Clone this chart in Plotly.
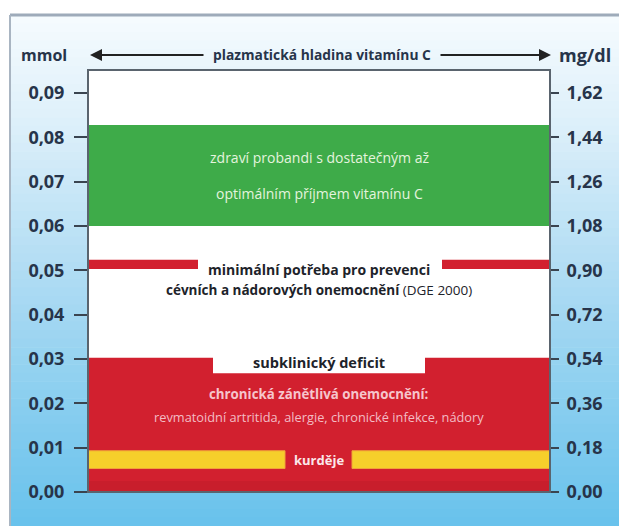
import plotly.graph_objects as go

# ---- data ----
mmol_ticks = [0.00, 0.01, 0.02, 0.03, 0.04, 0.05, 0.06, 0.07, 0.08, 0.09]
mgdl_ticks = [0.00, 0.18, 0.36, 0.54, 0.72, 0.90, 1.08, 1.26, 1.44, 1.62]
y_max = 0.0952
mg_per_mmol = 18.0

optimum_band = [0.0600, 0.0828]
minimum_band = [0.0503, 0.0524]
deficit_band = [0.0000, 0.0303]
deficit_label_band = [0.0268, 0.0306]
scurvy_band = [0.0053, 0.0093]

optimum_text = ["zdraví probandi s dostatečným až", "optimálním příjmem vitamínu C"]
minimum_text = ["minimální potřeba pro prevenci",
                "cévních a nádorových onemocnění <span style='font-weight:normal'>(DGE 2000)</span>"]
deficit_title = "subklinický deficit"
chronic_text = ["chronická zánětlivá onemocnění:",
                "revmatoidní artritida, alergie, chronické infekce, nádory"]
scurvy_text = "kurděje"
header_text = "plazmatická hladina vitamínu C"
left_unit = "mmol"
right_unit = "mg/dl"

# ---- geometry helpers ----
W, H = 619, 526
ML, MR, MT, MB = 88, 69, 70, 34
PW, PH = W - ML - MR, H - MT - MB


def px(x):
    return (x - ML) / PW


def py(y):
    return (H - MB - y) / PH


FONT = "Open Sans, Noto Sans, sans-serif"
DARK = "#27344a"
GREEN = "#3eab49"
RED = "#d2202f"
YELLOW = "#f6cf2b"

fig = go.Figure()
fig.add_trace(go.Scatter(x=[0, 1], y=[0, y_max], mode="markers",
                         marker=dict(opacity=0), hoverinfo="skip", showlegend=False))
fig.add_trace(go.Scatter(x=[0, 1], y=[0, y_max * mg_per_mmol], mode="markers",
                         marker=dict(opacity=0), hoverinfo="skip", showlegend=False,
                         yaxis="y2"))

shapes = []
# background gradient (white -> light blue)
stops = [(15, (246, 251, 254)), (120, (222, 240, 250)), (260, (180, 222, 244)),
         (400, (138, 206, 239)), (526, (104, 194, 236))]
N = 60
for i in range(N):
    y0 = 15 + (H - 15) * i / N
    y1 = 15 + (H - 15) * (i + 1) / N + 0.6
    yc = (y0 + y1) / 2
    for (a, ca), (b, cb) in zip(stops[:-1], stops[1:]):
        if a <= yc <= b:
            t = (yc - a) / (b - a)
            c = tuple(int(round(ca[k] + (cb[k] - ca[k]) * t)) for k in range(3))
            break
    shapes.append(dict(type="rect", xref="paper", yref="paper", layer="below",
                       x0=px(10), x1=px(W + 2), y0=py(y1), y1=py(y0),
                       fillcolor="rgb(%d,%d,%d)" % c, line=dict(width=0)))
# outer frame lines
shapes.append(dict(type="line", xref="paper", yref="paper", layer="below",
                   x0=px(10), x1=px(W + 2), y0=py(15), y1=py(15),
                   line=dict(color="#9eabba", width=3)))
shapes.append(dict(type="line", xref="paper", yref="paper", layer="below",
                   x0=px(10), x1=px(10), y0=py(15), y1=py(H + 2),
                   line=dict(color="#a9b5c2", width=2)))
# plot area white
shapes.append(dict(type="rect", xref="paper", yref="paper", layer="below",
                   x0=0, x1=1, y0=0, y1=1, fillcolor="white", line=dict(width=0)))

# bands
shapes.append(dict(type="rect", xref="paper", yref="y", x0=0, x1=1,
                   y0=optimum_band[0], y1=optimum_band[1], fillcolor=GREEN, line=dict(width=0)))
for xa, xb in [(0, px(198)), (px(442), 1)]:
    shapes.append(dict(type="rect", xref="paper", yref="y", x0=xa, x1=xb,
                       y0=minimum_band[0], y1=minimum_band[1], fillcolor=RED, line=dict(width=0)))
shapes.append(dict(type="rect", xref="paper", yref="y", x0=0, x1=1,
                   y0=deficit_band[0], y1=deficit_band[1], fillcolor=RED, line=dict(width=0)))
shapes.append(dict(type="rect", xref="paper", yref="y", x0=0, x1=1,
                   y0=deficit_band[0], y1=0.0025, fillcolor="#c81e2c", line=dict(width=0)))
shapes.append(dict(type="rect", xref="paper", yref="y", x0=px(213), x1=px(425),
                   y0=deficit_label_band[0], y1=deficit_label_band[1] + 0.0005,
                   fillcolor="white", line=dict(width=0)))
for xa, xb in [(0, px(285)), (px(352), 1)]:
    shapes.append(dict(type="rect", xref="paper", yref="y", x0=xa, x1=xb,
                       y0=scurvy_band[0], y1=scurvy_band[1], fillcolor=YELLOW,
                       line=dict(width=1, color="#f0a23a")))
# plot frame
shapes.append(dict(type="rect", xref="paper", yref="paper", x0=0, x1=1, y0=0, y1=1,
                   line=dict(color="#5a646e", width=2), fillcolor="rgba(0,0,0,0)"))

ann = []


def txt(text, x, y, size, color, bold=False, yref="y"):
    t = "<b>%s</b>" % text if bold else text
    ann.append(dict(text=t, x=x, y=y, xref="paper", yref=yref, showarrow=False,
                    font=dict(family=FONT, size=size, color=color),
                    xanchor="center", yanchor="middle"))


mid = 0.5
oc = sum(optimum_band) / 2
txt(optimum_text[0], mid, oc + 0.0041, 14, "#e4f4de")
txt(optimum_text[1], mid, oc - 0.0041, 14, "#e4f4de")
txt(minimum_text[0], mid, 0.0501, 14, "#1d232a", bold=True)
txt(minimum_text[1], mid, 0.0456, 13.5, "#1d232a", bold=True)
txt(deficit_title, mid, 0.0292, 14.5, "#1d232a", bold=True)
txt(chronic_text[0], mid, 0.0222, 13.3, "#f6c5cc", bold=True)
txt(chronic_text[1], mid, 0.0170, 12.8, "#f3bcc4")
txt(scurvy_text, mid, sum(scurvy_band) / 2, 13, "#fbe7ea", bold=True)

# header
txt(left_unit, px(44), py(55), 16, DARK, bold=True, yref="paper")
txt(right_unit, px(585), py(55), 18, DARK, bold=True, yref="paper")
txt(header_text, px(322), py(55), 13.8, DARK, bold=True, yref="paper")
ann.append(dict(x=px(90), y=py(55), ax=115, ay=0, xref="paper", yref="paper",
                text="", showarrow=True, arrowhead=2, arrowsize=1.2, arrowwidth=2,
                arrowcolor="#222"))
ann.append(dict(x=px(551), y=py(55), ax=-112, ay=0, xref="paper", yref="paper",
                text="", showarrow=True, arrowhead=2, arrowsize=1.2, arrowwidth=2,
                arrowcolor="#222"))

fig.update_layout(
    width=W, height=H,
    margin=dict(l=ML, r=MR, t=MT, b=MB),
    paper_bgcolor="white",
    plot_bgcolor="rgba(0,0,0,0)",
    separators=",.",
    showlegend=False,
    shapes=shapes,
    annotations=ann,
    xaxis=dict(range=[0, 1], visible=False, fixedrange=True),
    yaxis=dict(range=[0, y_max], tickvals=mmol_ticks, tickformat=".2f",
               ticks="outside", ticklen=13, tickwidth=2, tickcolor="#3a4450",
               ticklabelstandoff=6,
               showgrid=False, zeroline=False, showline=False,
               tickfont=dict(family=FONT, size=18, color=DARK, weight="bold")),
    yaxis2=dict(range=[0, y_max * mg_per_mmol], tickvals=mgdl_ticks, tickformat=".2f",
                overlaying="y", side="right",
                ticks="outside", ticklen=8, tickwidth=2, tickcolor="#3a4450",
                ticklabelstandoff=4,
                showgrid=False, zeroline=False, showline=False,
                tickfont=dict(family=FONT, size=18, color=DARK, weight="bold")),
)

fig.write_html("out.html")
